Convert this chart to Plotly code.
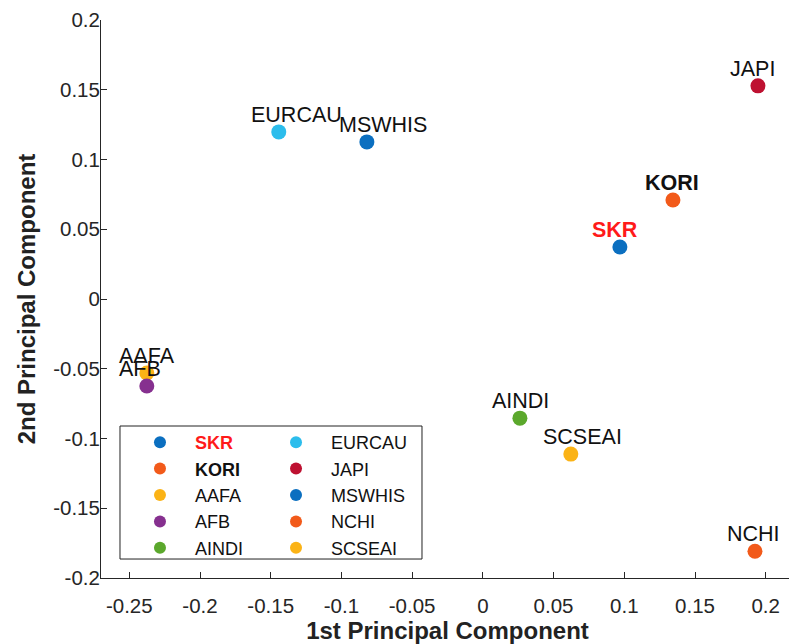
import plotly.graph_objects as go

names = ["SKR", "KORI", "AAFA", "AFB", "AINDI", "EURCAU", "JAPI", "MSWHIS", "NCHI", "SCSEAI"]
pc1 = [0.0969, 0.1344, -0.2376, -0.2376, 0.0262, -0.1443, 0.1945, -0.0820, 0.1924, 0.0622]
pc2 = [0.0373, 0.0710, -0.0531, -0.0624, -0.0854, 0.1198, 0.1528, 0.1126, -0.1808, -0.1112]
colors = ["#0B6FC0", "#F25A1A", "#FBB316", "#86308F", "#5BA82C",
          "#2CBDEC", "#BE1131", "#0B6FC0", "#F25A1A", "#FBB316"]
label_html = {"SKR": "<b><span style='color:#FF1A1A'>SKR</span></b>", "KORI": "<b>KORI</b>"}
xticks = [-0.25, -0.2, -0.15, -0.1, -0.05, 0, 0.05, 0.1, 0.15, 0.2]
yticks = [-0.2, -0.15, -0.1, -0.05, 0, 0.05, 0.1, 0.15, 0.2]

FONT = "Liberation Sans, Arial, sans-serif"
fig = go.Figure()
for i, n in enumerate(names):
    fig.add_trace(go.Scatter(
        x=[pc1[i]], y=[pc2[i]], mode="markers",
        marker=dict(size=15, color=colors[i]),
        name=label_html.get(n, n),
        legend="legend" if i < 5 else "legend2",
        showlegend=True,
    ))
    fig.add_annotation(x=pc1[i], y=pc2[i], text=label_html.get(n, n), showarrow=False,
                       xanchor="left", yanchor="bottom", xshift=-30, yshift=3,
                       font=dict(family=FONT, size=21.5, color="#111111"))

axis_common = dict(showline=True, linecolor="#262626", linewidth=1, ticks="inside",
                   ticklen=6, tickcolor="#262626", showgrid=False, zeroline=False,
                   tickfont=dict(family=FONT, size=20.5, color="#262626"), mirror=False,
                   automargin=False)
fig.update_xaxes(range=[-0.27, 0.22], tickvals=xticks, ticktext=[f"{v:g}" for v in xticks],
                 ticklabelstandoff=9,
                 title=dict(text="<b>1st Principal Component</b>", font=dict(family=FONT, size=24, color="#222222"), standoff=6),
                 **axis_common)
fig.update_yaxes(range=[-0.2, 0.2], tickvals=yticks, ticktext=[f"{v:g}" for v in yticks],
                 ticklabelstandoff=-4,
                 title=dict(text="<b>2nd Principal Component</b>", font=dict(family=FONT, size=24, color="#222222"), standoff=10),
                 **axis_common)

legend_common = dict(bgcolor="rgba(0,0,0,0)", borderwidth=0, font=dict(family=FONT, size=18, color="#111111"),
                     xanchor="left", yanchor="top", itemsizing="constant", tracegroupgap=0, itemwidth=60)
fig.update_layout(
    width=789, height=636,
    margin=dict(l=93, r=3, t=12, b=66),
    plot_bgcolor="white", paper_bgcolor="white",
    legend=dict(x=0.0346, y=0.276, **legend_common),
    legend2=dict(x=0.2309, y=0.276, **legend_common),
    shapes=[dict(type="rect", xref="paper", yref="paper", x0=0.0274, x1=0.4632, y0=0.034, y1=0.2724,
                 line=dict(color="#222222", width=1), fillcolor="white", layer="below")],
)
fig.write_html("out.html")
